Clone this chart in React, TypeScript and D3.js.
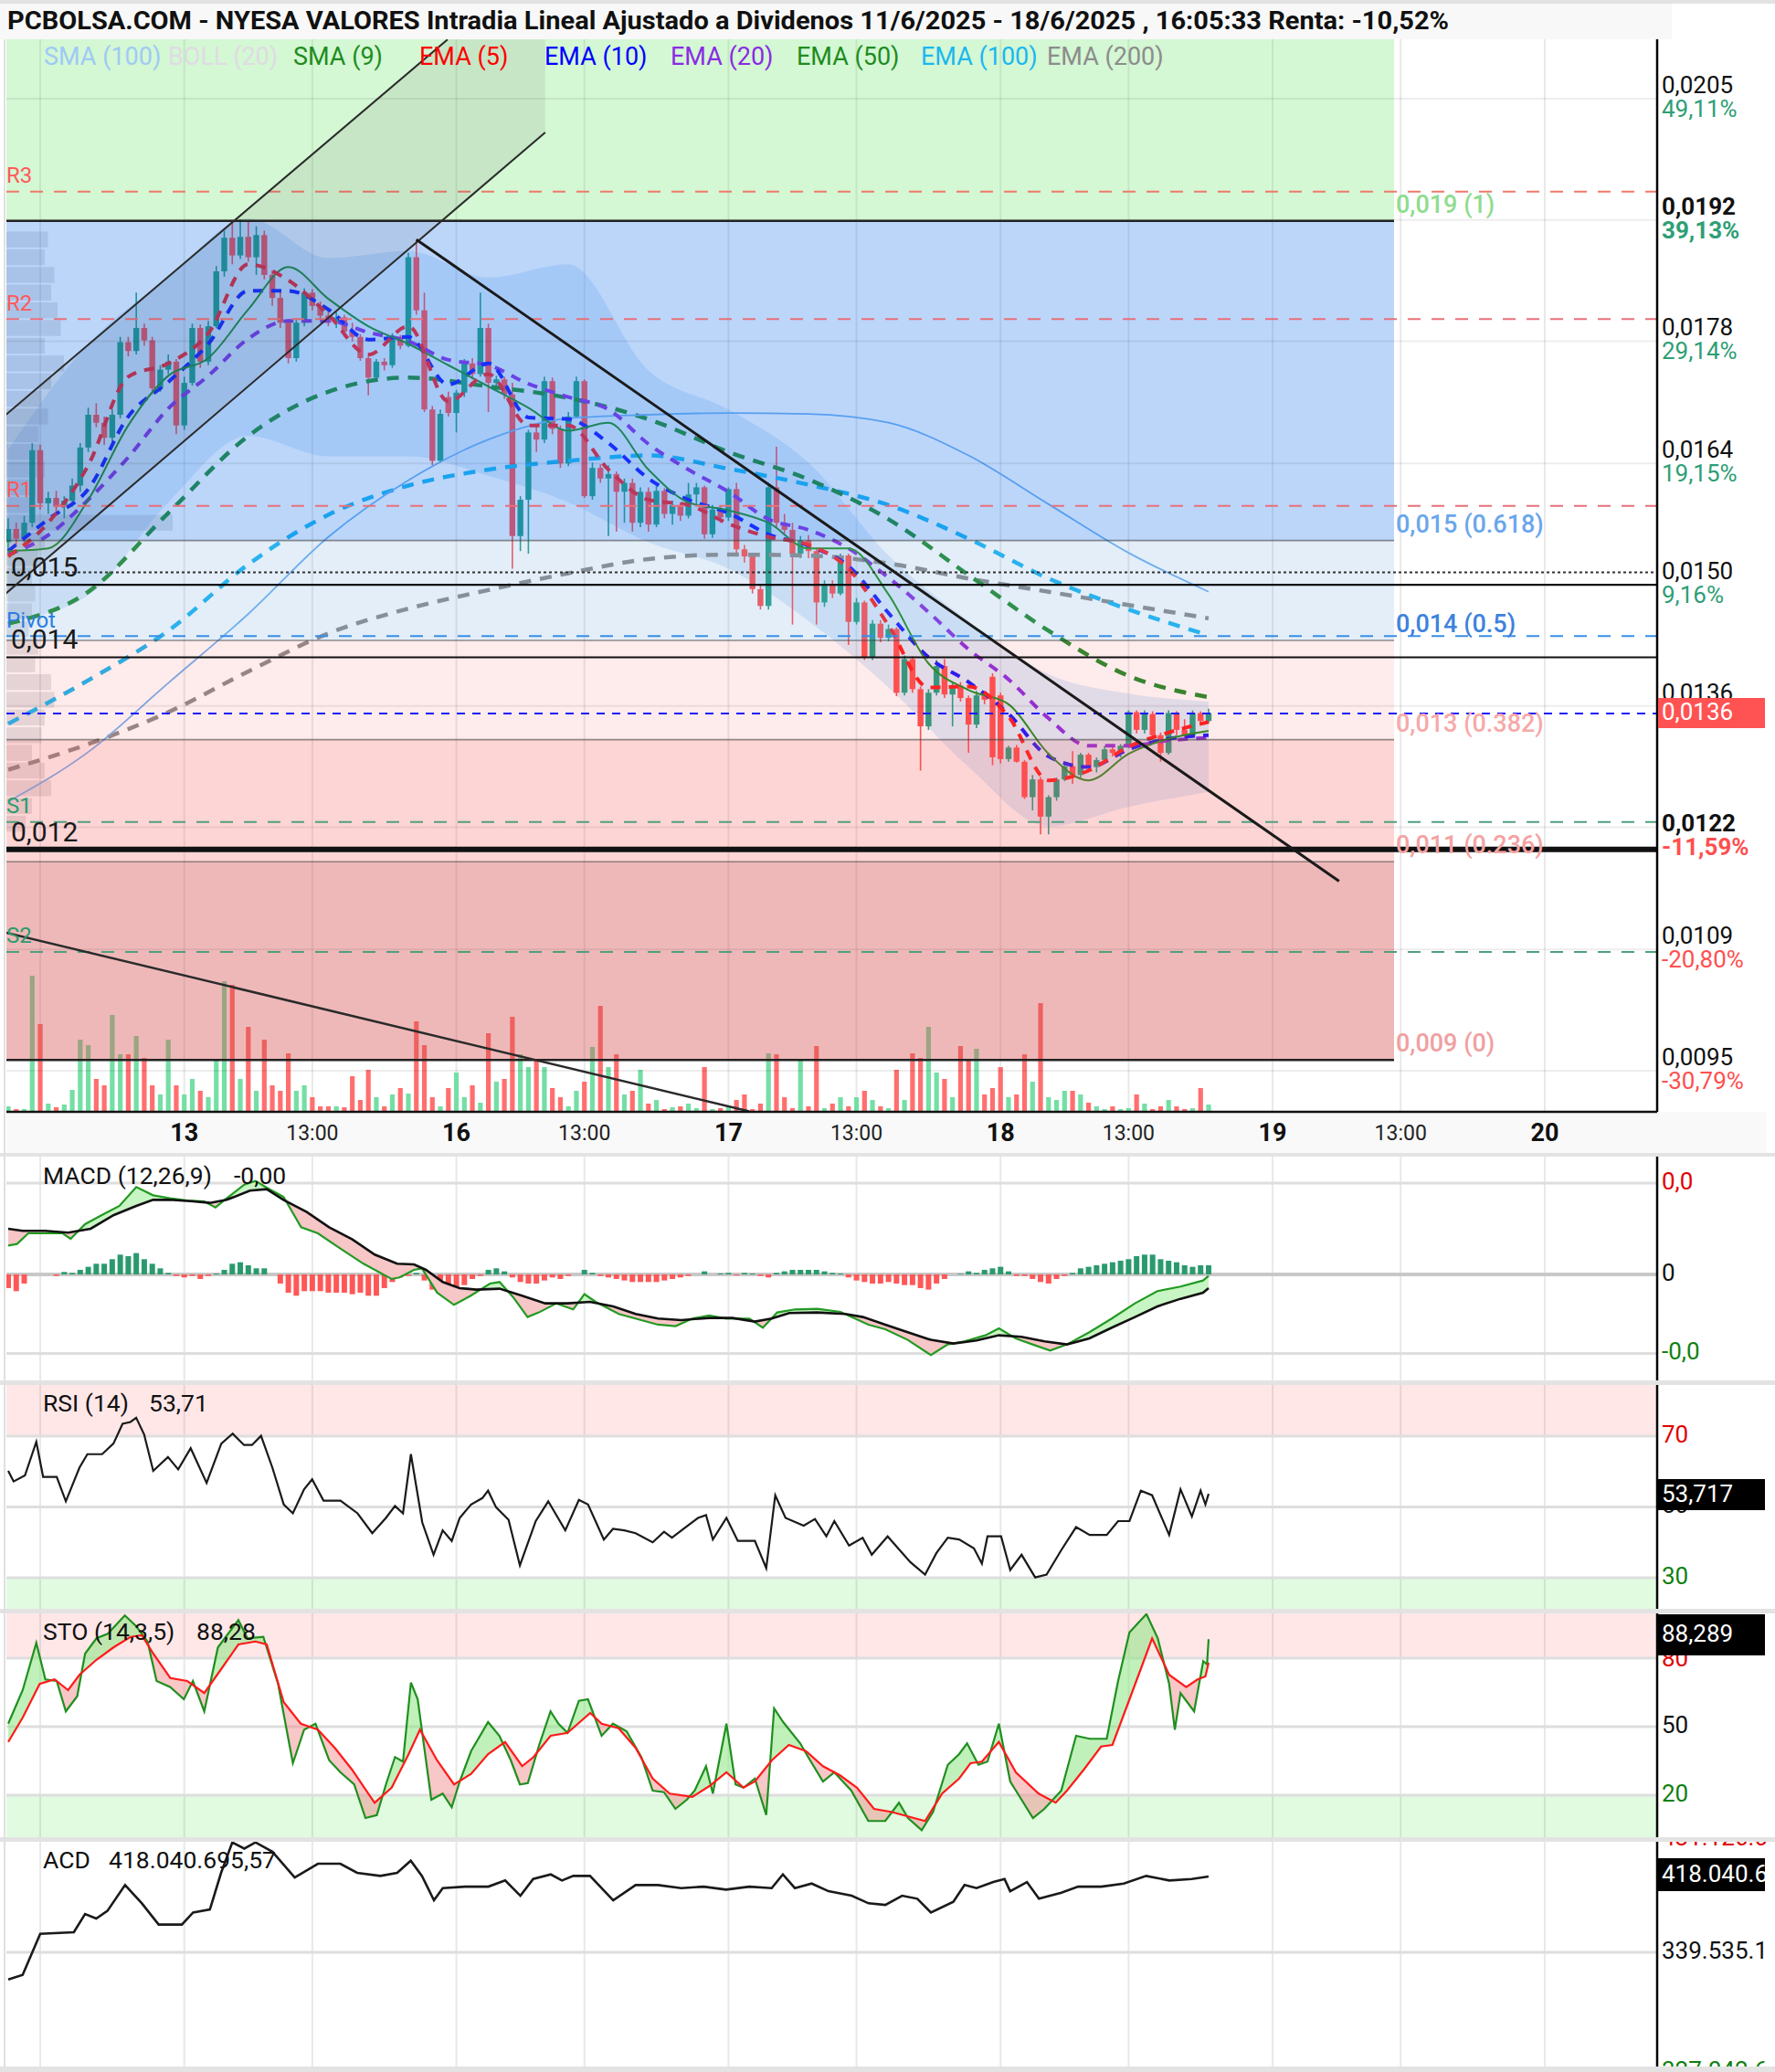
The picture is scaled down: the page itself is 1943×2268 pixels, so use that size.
import React from 'react';
import * as d3 from 'd3';

// ---------------- DATA ----------------
// Prices are in units of 0.0001 EUR. Candles are 15-minute slots, index 0 = 12/6 12:00.
const TITLE = 'PCBOLSA.COM - NYESA VALORES Intradia Lineal Ajustado a Dividenos 11/6/2025 - 18/6/2025 , 16:05:33 Renta: -10,52%';

const opens = [
  154.8, 156.3, 155.2, 157.0, 165.2, 159.2, 159.8, 158.8, 159.5, 161.2,
  165.5, 169.2, 168.3, 166.6, 169.2, 177.4, 176.4, 179.0, 177.6, 172.2,
  174.3, 175.2, 168.0, 172.8, 179.0, 175.2, 179.2, 185.4, 189.2, 187.2,
  189.3, 187.0, 189.5, 185.0, 182.4, 179.6, 175.6, 179.6, 183.0, 181.5,
  180.4, 179.6, 180.2, 178.6, 178.0, 175.6, 173.4, 175.2, 174.8, 178.0,
  177.0, 187.0, 181.0, 169.8, 164.0, 171.2, 169.4, 171.7, 175.0, 173.8,
  179.0, 172.8, 173.2, 171.5, 155.5, 159.6, 167.2, 166.4, 173.0, 167.6,
  163.7, 169.0, 173.0, 160.0, 163.2, 162.0, 162.5, 160.5, 161.5, 157.0,
  160.5, 156.8, 160.6, 158.0, 159.0, 157.8, 160.2, 161.0, 155.7, 158.5,
  157.6, 160.8, 154.0, 153.2, 149.5, 147.6, 161.0, 157.0, 156.2, 153.5,
  155.0, 153.8, 148.0, 150.0, 149.0, 153.3, 145.8, 148.0, 141.8, 145.6,
  144.0, 145.0, 137.8, 141.6, 138.2, 134.0, 137.8, 140.8, 137.6, 138.6,
  137.2, 134.2, 137.5, 139.6, 137.5, 130.3, 131.6, 130.0, 126.0, 128.0,
  123.8, 126.0, 128.0, 129.5, 128.5, 130.8, 129.4, 130.2, 131.4, 131.0,
  131.8, 135.6, 133.6, 135.4, 133.0, 131.0, 135.5, 133.6, 133.0, 135.5,
  134.6,
];
const highs = [
  157.5, 157.0, 157.8, 166.0, 165.8, 160.5, 160.6, 160.0, 162.0, 166.0,
  170.0, 170.5, 169.0, 169.8, 178.0, 178.0, 183.0, 179.5, 178.0, 174.8,
  176.0, 175.5, 173.5, 179.5, 179.4, 179.8, 186.0, 190.0, 191.2, 191.3,
  191.0, 190.5, 190.0, 185.5, 183.2, 180.0, 180.0, 183.5, 183.4, 182.0,
  181.0, 180.8, 180.5, 179.6, 178.3, 175.8, 175.5, 175.6, 178.4, 178.2,
  187.5, 189.0, 183.0, 170.2, 169.8, 171.8, 172.0, 175.5, 175.6, 183.0,
  179.5, 173.6, 173.5, 172.8, 160.0, 167.5, 168.0, 173.5, 173.4, 168.0,
  169.5, 173.5, 173.2, 163.8, 163.6, 163.5, 162.8, 162.0, 162.0, 161.0,
  161.0, 161.2, 160.9, 159.5, 159.3, 161.5, 161.5, 161.2, 159.0, 159.0,
  161.0, 161.5, 154.5, 153.6, 150.0, 161.5, 165.6, 158.0, 157.0, 155.5,
  155.6, 154.2, 150.5, 150.5, 153.5, 153.5, 148.5, 148.2, 146.0, 146.0,
  145.5, 145.2, 142.0, 141.9, 138.5, 138.2, 141.5, 141.6, 139.0, 139.0,
  137.5, 138.0, 138.0, 140.0, 137.8, 131.8, 131.9, 130.2, 128.5, 128.3,
  126.2, 128.2, 129.8, 131.2, 131.0, 131.0, 130.5, 131.8, 131.8, 132.0,
  135.8, 135.8, 135.8, 135.7, 133.3, 135.8, 135.7, 134.8, 135.8, 135.7,
  136.0,
];
const lows = [
  153.5, 154.5, 154.8, 156.5, 158.5, 158.0, 158.2, 157.5, 158.8, 160.5,
  165.0, 167.8, 165.8, 166.0, 168.8, 175.8, 176.0, 177.0, 171.5, 171.8,
  173.8, 167.0, 167.5, 172.5, 174.5, 174.8, 179.0, 184.8, 186.2, 186.8,
  186.5, 185.0, 184.5, 181.5, 179.0, 175.0, 175.2, 179.2, 181.0, 180.0,
  179.2, 179.0, 178.0, 177.5, 175.3, 171.4, 173.0, 174.2, 174.5, 176.6,
  176.8, 180.5, 169.5, 163.5, 163.8, 169.0, 167.2, 171.2, 173.2, 173.5,
  169.5, 172.0, 171.0, 151.8, 153.8, 153.5, 165.0, 166.0, 167.0, 163.2,
  163.4, 168.8, 159.8, 159.6, 161.5, 155.5, 156.0, 157.0, 156.0, 156.5,
  156.0, 156.5, 157.5, 156.8, 157.2, 157.5, 159.0, 155.2, 155.3, 157.0,
  157.2, 153.5, 152.5, 149.0, 147.2, 147.2, 156.5, 155.8, 145.5, 153.0,
  153.0, 145.5, 147.5, 148.5, 148.8, 143.2, 145.5, 141.5, 141.5, 143.5,
  143.6, 137.4, 137.5, 137.8, 129.0, 133.6, 137.5, 137.2, 134.0, 136.8,
  131.0, 133.8, 136.5, 129.6, 129.8, 130.0, 129.9, 125.8, 124.5, 121.8,
  121.8, 125.6, 127.8, 127.5, 128.2, 129.0, 128.8, 129.8, 130.6, 130.5,
  131.5, 133.2, 133.2, 132.8, 130.0, 130.8, 133.0, 132.6, 132.8, 134.2,
  134.4,
];
const closes = [
  156.3, 155.2, 157.0, 165.2, 159.2, 159.8, 158.8, 159.5, 161.2, 165.5,
  169.2, 168.3, 166.6, 169.2, 177.4, 176.4, 179.0, 177.6, 172.2, 174.3,
  175.2, 168.0, 172.8, 179.0, 175.2, 179.2, 185.4, 189.2, 187.2, 189.3,
  187.0, 189.5, 185.0, 182.4, 179.6, 175.6, 179.6, 183.0, 181.5, 180.4,
  179.6, 180.2, 178.6, 178.0, 175.6, 173.4, 175.2, 174.8, 178.0, 177.0,
  187.0, 181.0, 169.8, 164.0, 169.3, 169.4, 171.7, 175.0, 173.8, 179.0,
  172.8, 173.2, 171.5, 155.5, 159.6, 167.2, 166.4, 173.0, 167.6, 163.7,
  169.0, 173.0, 160.0, 163.2, 162.0, 162.5, 160.5, 161.5, 157.0, 160.5,
  156.8, 160.6, 158.0, 159.0, 157.8, 160.2, 161.0, 155.7, 158.5, 157.6,
  160.8, 154.0, 153.2, 149.5, 147.6, 161.0, 157.0, 156.2, 153.5, 155.0,
  153.8, 148.0, 150.0, 149.0, 153.3, 145.8, 148.0, 141.8, 145.6, 144.0,
  145.0, 137.8, 141.6, 138.2, 134.0, 137.8, 140.8, 137.6, 138.6, 137.2,
  134.2, 137.5, 137.0, 130.5, 130.3, 131.6, 130.0, 126.0, 128.0, 123.8,
  126.0, 128.0, 129.5, 128.5, 130.8, 129.4, 130.2, 131.4, 131.0, 131.8,
  135.6, 133.6, 135.4, 133.0, 131.0, 135.5, 133.6, 133.0, 135.5, 134.6,
  135.5,
];
const volumes = [
  6, 3, 3, 149, 96, 9, 5, 8, 24, 79,
  73, 36, 29, 106, 63, 63, 83, 59, 29, 19,
  79, 29, 19, 36, 23, 16, 56, 143, 139, 36,
  93, 23, 79, 29, 23, 64, 23, 29, 16, 6,
  6, 6, 5, 39, 13, 46, 16, 6, 19, 26,
  20, 99, 73, 16, 6, 26, 43, 16, 29, 10,
  86, 33, 36, 104, 63, 49, 56, 49, 26, 16,
  6, 23, 33, 71, 116, 49, 63, 19, 23, 46,
  9, 13, 3, 5, 6, 9, 4, 49, 3, 4,
  6, 13, 19, 3, 9, 64, 63, 16, 4, 56,
  6, 72, 4, 9, 16, 6, 16, 23, 13, 6,
  4, 46, 13, 64, 59, 93, 43, 36, 16, 72,
  56, 69, 19, 26, 49, 16, 19, 63, 33, 119,
  16, 13, 23, 23, 19, 10, 6, 3, 6, 3,
  4, 19, 9, 3, 6, 13, 6, 3, 4, 26,
  8,
];

// moving averages sampled every 5 candles
const ema5 = [153.2, 157.0, 163.5, 173.5, 175.0, 178.4, 186.2, 184.4, 180.5, 176.0, 179.2, 170.7, 173.8, 168.0, 168.0, 163.0, 159.6, 159.0, 156.9, 155.4, 154.5, 151.8, 145.4, 138.4, 138.5, 135.1, 127.9, 129.0, 131.7, 133.3, 134.5];
const ema10 = [153.8, 157.4, 160.8, 169.0, 172.9, 177.2, 183.2, 183.2, 181.1, 177.7, 178.0, 172.6, 175.0, 168.9, 168.7, 166.0, 162.0, 159.6, 158.1, 155.7, 154.4, 152.1, 146.8, 141.8, 139.0, 135.4, 130.6, 129.4, 131.4, 132.6, 133.0];
const ema20 = [153.4, 155.6, 159.6, 164.4, 169.9, 173.6, 177.8, 179.8, 179.8, 178.5, 177.5, 175.4, 174.8, 172.7, 171.2, 169.8, 165.9, 163.0, 160.5, 157.4, 156.2, 154.1, 150.8, 146.9, 142.7, 139.3, 134.9, 131.8, 131.8, 132.4, 132.7];
const sma9 = [153.8, 154.1, 159.6, 168.0, 173.6, 175.6, 181.1, 185.9, 182.3, 179.2, 177.2, 174.8, 172.4, 170.0, 167.4, 168.3, 163.0, 159.3, 158.4, 157.0, 154.1, 154.1, 148.9, 141.1, 138.1, 136.5, 130.9, 127.9, 130.9, 132.6, 133.5];
// long averages sampled every 10 candles
const ema50 = [145.6, 149.2, 158.1, 166.8, 171.8, 173.4, 172.4, 171.1, 168.7, 165.0, 161.9, 157.4, 151.1, 144.8, 139.7, 137.3];
const ema100 = [134.3, 139.2, 144.8, 152.3, 157.9, 161.2, 163.0, 164.0, 164.6, 163.1, 161.3, 159.0, 155.2, 150.7, 147.2, 144.3];
const ema200 = [129.1, 132.0, 135.6, 140.2, 144.5, 147.3, 149.4, 151.3, 152.9, 153.4, 153.3, 152.4, 150.7, 149.2, 147.7, 146.2];
const sma100 = [125.5, 131.1, 138.9, 146.7, 155.4, 161.8, 166.4, 168.8, 169.2, 169.4, 169.3, 168.3, 164.6, 159.1, 153.6, 149.2];
const bollUpper = [165.3, 177.2, 184.7, 191.4, 186.9, 187.7, 184.7, 186.2, 174.2, 169.8, 163.8, 153.3, 145.9, 139.9, 137.7, 136.8];
const bollLower = [145.9, 148.8, 159.3, 166.8, 164.5, 164.5, 162.3, 159.3, 154.8, 151.8, 145.9, 138.4, 129.4, 122.7, 124.9, 126.6];

// volume profile (price bin centres, bar widths in relative units)
const profileLevels = [189, 187, 185, 183, 181, 179, 177, 175, 173, 171, 169, 167, 165, 163, 161, 159, 157, 155, 153, 151, 149, 147, 145, 143, 141, 139, 137, 135, 133, 131, 129, 127, 125, 123];
const profileWidths = [65, 60, 75, 70, 80, 85, 60, 90, 70, 55, 65, 50, 55, 60, 45, 40, 260, 60, 50, 40, 45, 40, 35, 50, 45, 70, 75, 60, 55, 40, 60, 70, 40, 30];

// price levels
const fibValues = [191.1, 155.0, 143.7, 132.5, 118.7, 96.3];
const fibLabels = ['0,019 (1)', '0,015 (0.618)', '0,014 (0.5)', '0,013 (0.382)', '0,011 (0.236)', '0,009 (0)'];
const fibLabelColors = ['#8fdc8f', '#6aa6ec', '#3d82de', '#f6a9a9', '#f3a3a3', '#f0a0a0'];
const fibZoneColors = ['rgba(83,223,83,0.25)', 'rgba(32,118,238,0.30)', 'rgba(115,170,225,0.20)', 'rgba(247,88,88,0.12)', 'rgba(247,87,87,0.25)', 'rgba(212,77,77,0.40)'];
const pivotNames = ['R3', 'R2', 'R1', 'Pivot', 'S1', 'S2'];
const pivotValues = [194.4, 180.0, 158.9, 144.2, 123.2, 108.5];
const pivotLineColors = ['#f07a6a', '#e8707a', '#e8707a', '#3a8ee6', '#4f9f7f', '#4f9f7f'];
const pivotTextColors = ['#ff5a5a', '#ff5a5a', '#ff5a5a', '#2a7de1', '#2a9d6f', '#2a9d6f'];
const levelValues = [150.0, 141.8, 120.1];
const levelLabels = ['0,015', '0,014', '0,012'];
const levelWidths = [2.2, 2.2, 6];
const dottedLevel = 151.4;
const lastPrice = 135.45;

// trend lines as [candle index, price]
const trendDown = [[51, 189.0], [166.3, 116.5]];
const channelUpper = [[-0.3, 169.2], [54.9, 211.6]];
const channelLower = [[-0.3, 149.0], [67.1, 201.1]];
const s2Trend = [[-0.3, 110.7], [92.6, 90.5]];

// axis ticks
const priceTicks = [204.9, 191.2, 177.5, 163.7, 150.0, 136.3, 122.6, 108.8, 95.1];
const priceTickLabels = ['0,0205', '0,0192', '0,0178', '0,0164', '0,0150', '0,0136', '', '0,0109', '0,0095'];
const pctTickLabels = ['49,11%', '39,13%', '29,14%', '19,15%', '9,16%', '-0,82%', '', '-20,80%', '-30,79%'];
const lowMark = 121.5;
const dayTickIdx = [22, 56, 90, 124, 158, 192];
const dayTickLabels = ['13', '16', '17', '18', '19', '20'];
const hourTickIdx = [4, 38, 72, 106, 140, 174];
const hourTickLabels = ['', '13:00', '13:00', '13:00', '13:00', '13:00'];

const legendNames = ['SMA (100)', 'BOLL (20)', 'SMA (9)', 'EMA (5)', 'EMA (10)', 'EMA (20)', 'EMA (50)', 'EMA (100)', 'EMA (200)'];
const legendColors = ['#9fcaf5', '#e0dbe4', '#1e8c1e', '#ff0000', '#0000ff', '#8a2be2', '#1e8c1e', '#1ab8f0', '#8c8c8c'];
const legendX = [48, 184, 321, 459, 596, 734, 872, 1008, 1146];

// MACD (units 1e-5)
const macdIdx = [0, 1.1, 2.5, 6.8, 7.8, 9.6, 11.7, 13.9, 16.0, 18.1, 20.2, 22.4, 24.5, 25.9, 27.3, 29.5, 30.9, 32.3, 34.4, 36.6, 38.7, 41.5, 44.4, 47.9, 48.9, 50.7, 51.7, 53.6, 55.7, 57.8, 60.2, 61.4, 63.1, 64.9, 66.3, 68.5, 70.6, 72.0, 73.4, 76.3, 79.1, 81.2, 83.4, 85.5, 87.6, 89.7, 92.6, 94.3, 96.1, 98.3, 101.1, 104.0, 107.5, 109.6, 112.4, 115.3, 117.4, 119.5, 122.1, 123.8, 125.9, 128.0, 130.2, 132.3, 135.1, 137.9, 140.8, 143.6, 146.5, 149.3, 150];
const macdVals = [9.5, 10, 13.5, 13.5, 11.7, 16.5, 19.5, 22.5, 28.7, 26, 25, 24.3, 24, 22, 25, 29.5, 30.7, 28.5, 25.5, 15.5, 13.5, 8.5, 3.5, -1.5, -1, 1.5, 2, -6, -10, -7, -3, -2.5, -7.5, -14, -12.5, -9.5, -11.5, -6.5, -9, -13, -15, -16.5, -17, -14.5, -13.5, -14.5, -14.5, -17.5, -12.5, -11.5, -11.3, -12.3, -16.5, -18, -21.5, -26.5, -23, -22, -20, -17.7, -21, -23, -25, -23, -19, -14.5, -9.5, -5.5, -4, -2, -0.5];
const signalIdx = [0, 1.8, 4.6, 7.5, 10.3, 13.2, 16.0, 18.1, 20.2, 23.1, 25.2, 27.3, 30.2, 32.3, 34.4, 37.3, 40.1, 43.0, 45.8, 48.6, 50.7, 52.2, 54.3, 56.4, 58.5, 61.4, 64.2, 67.1, 69.9, 72.7, 75.6, 78.4, 81.2, 84.1, 87.6, 90.5, 93.3, 95.4, 97.6, 101.1, 104.6, 106.8, 109.6, 112.4, 115.3, 118.1, 121.0, 123.8, 126.6, 129.5, 132.3, 135.1, 137.9, 140.8, 143.6, 146.5, 149.3, 150];
const signalVals = [15, 14.3, 14.3, 13.7, 15, 19.5, 22.5, 24.5, 24.5, 24, 23.5, 24.5, 27.5, 28, 24.5, 20.5, 15.5, 11.5, 6.5, 3.5, 3.3, 1.5, -2.5, -4.5, -5, -4.7, -7, -9.5, -9.5, -9, -10.5, -13, -14.5, -15, -14.3, -14.3, -15.5, -14.5, -12.7, -12.5, -13, -14, -16.5, -19, -21.5, -22.7, -21.7, -20, -20.5, -22, -23, -21, -17.5, -14, -10.5, -8, -6, -4.5];
const histVals = [
  -4.5, -5.5, -3, 0, 0, 0, -0.5, 0.8, 0.5, 1.5,
  2.5, 3.5, 3.5, 5, 6.5, 6, 7, 5, 3.5, 2,
  0.5, -0.5, -1, -0.5, -1.5, -0.5, 0.3, 1.5, 3.5, 4,
  3, 2, 2, 0, -3, -6, -7, -5.5, -5.5, -5.5,
  -6, -6, -6, -6.5, -6, -7, -7, -4.5, -2.5, -1,
  -0.5, 0.5, -2, -5, -6, -7, -5, -3.5, -1.5, -0.5,
  1.5, 2, 1, -1, -2.5, -3, -3, -2, -1, -1.5,
  -0.5, 0, 1.5, 0.5, -0.5, -1, -1.5, -2, -2.5, -2.5,
  -2.5, -2.5, -2, -1.5, -1, -0.5, 0, 1, 0, 0.3,
  0.5, -0.3, 0.5, 0.3, -0.5, -1, 0.5, 1, 1.5, 1.5,
  1.5, 1.5, 1, 0.5, 0.3, -1, -2, -2.5, -3, -3,
  -2.5, -3, -3.5, -3.5, -4.5, -5, -3, -1.5, 0, 0.2,
  1, 0.5, 1.5, 2, 2.5, 1, -0.5, -0.5, -1.5, -2.5,
  -3, -1.5, -0.5, 0.5, 2, 2.5, 3, 3.5, 4, 4.5,
  5, 6, 6.5, 6.5, 5, 4.5, 4, 3, 2.5, 3,
  3,
];

// RSI (14)
const rsiIdx = [0, 0.67, 2.09, 3.51, 4.36, 6.06, 7.2, 8.9, 9.89, 11.73, 13.15, 14.29, 15.28, 15.99, 16.98, 18.12, 19.96, 21.24, 22.8, 24.79, 26.63, 28.05, 29.47, 30.46, 31.59, 33.01, 34.43, 35.57, 36.98, 37.98, 39.4, 41.52, 43.65, 45.49, 47.2, 48.33, 49.33, 50.32, 51.74, 53.15, 54.29, 55.42, 56.42, 57.84, 59.25, 59.96, 60.96, 62.52, 63.94, 65.92, 67.48, 69.61, 71.31, 72.45, 74.43, 75.57, 76.99, 78.4, 80.53, 81.95, 82.94, 84.36, 86.2, 87.2, 88.05, 89.75, 91.17, 93.3, 94.72, 95.85, 97.13, 99.4, 100.81, 102.23, 103.23, 105.07, 106.77, 107.91, 109.89, 112.73, 114.57, 115.99, 117.41, 118.83, 120.67, 121.67, 122.37, 124.07, 125.21, 126.63, 128.33, 129.75, 131.59, 133.44, 135.14, 137.27, 138.69, 140.11, 141.53, 142.94, 145.07, 146.49, 147.91, 149.0, 149.6, 150];
const rsiVals = [60.2, 57.2, 58.9, 68.4, 58.5, 58.5, 51.6, 61.1, 64.9, 64.9, 67.9, 73.5, 74.0, 75.2, 70.5, 60.2, 64.1, 60.6, 66.6, 56.8, 67.9, 70.7, 67.5, 67.5, 70.1, 61.1, 50.7, 48.2, 55.0, 57.8, 51.8, 51.8, 48.2, 42.6, 46.9, 50.3, 48.2, 64.9, 45.6, 36.5, 43.4, 40.4, 46.9, 50.7, 52.5, 54.6, 49.9, 46.4, 33.5, 46.0, 51.6, 43.4, 52.0, 50.7, 40.8, 43.8, 43.4, 42.6, 40.0, 43.0, 41.3, 43.8, 46.9, 47.7, 40.8, 46.9, 40.4, 40.4, 32.7, 53.3, 46.9, 44.7, 46.6, 41.7, 46.0, 39.1, 41.3, 36.5, 41.7, 34.4, 30.9, 37.0, 41.3, 40.8, 38.3, 34.0, 41.7, 41.7, 32.2, 36.5, 30.1, 30.9, 37.8, 44.3, 42.1, 42.1, 46.0, 46.0, 54.6, 53.3, 42.1, 55.0, 47.3, 54.6, 50.7, 53.7];

// Stochastic (14,3,5)
const stoKIdx = [0, 1.81, 3.51, 4.64, 6.06, 7.2, 8.62, 9.61, 11.03, 12.45, 14.57, 15.99, 17.41, 18.54, 20.25, 21.95, 23.08, 24.5, 26.2, 28.76, 29.89, 31.88, 33.72, 35.57, 36.98, 38.4, 40.1, 41.52, 43.23, 44.64, 46.06, 47.2, 48.33, 49.33, 50.32, 51.17, 52.87, 54.29, 55.42, 56.42, 57.84, 59.96, 61.38, 62.8, 63.94, 64.93, 66.35, 67.77, 68.76, 69.89, 71.31, 72.45, 74.15, 75.57, 77.27, 79.11, 80.53, 81.95, 83.37, 84.79, 85.78, 87.2, 88.05, 89.75, 90.89, 91.88, 93.3, 94.72, 95.71, 96.84, 98.97, 99.96, 101.81, 103.23, 105.35, 107.48, 109.6, 111.31, 112.44, 114.15, 115.57, 117.41, 118.83, 119.82, 121.24, 122.37, 123.79, 125.21, 126.63, 128.05, 129.47, 131.59, 133.44, 135.14, 137.27, 138.69, 140.11, 142.23, 143.65, 145.07, 145.78, 146.49, 148.19, 149.33, 149.8, 150];
const stoKVals = [51.3, 66.0, 86.7, 70.7, 70.0, 56.7, 63.3, 82.0, 88.7, 90.7, 98.7, 94.0, 87.3, 70.0, 67.3, 62.0, 70.0, 56.7, 84.7, 96.7, 88.7, 89.3, 68.7, 34.0, 48.7, 51.3, 35.3, 30.0, 24.7, 10.0, 11.3, 24.7, 36.7, 34.7, 69.3, 62.0, 18.0, 20.7, 14.7, 26.0, 39.3, 52.0, 46.0, 35.3, 24.7, 25.3, 42.0, 56.7, 51.3, 47.3, 61.3, 62.0, 46.0, 51.3, 48.0, 36.7, 22.0, 21.3, 14.0, 18.0, 22.0, 32.7, 20.7, 51.3, 24.7, 23.3, 27.3, 11.3, 58.0, 52.0, 42.7, 36.7, 26.0, 30.0, 22.0, 8.7, 8.7, 16.7, 10.0, 4.7, 12.7, 33.3, 38.0, 42.7, 33.3, 34.7, 51.3, 26.0, 18.0, 10.0, 14.0, 22.0, 46.0, 44.7, 44.7, 70.0, 91.3, 99.3, 88.7, 68.7, 48.7, 64.7, 56.7, 78.7, 77.3, 88.3];
const stoDIdx = [0, 1.81, 3.93, 5.78, 7.48, 8.9, 11.03, 13.15, 15.28, 16.7, 18.12, 20.25, 22.37, 24.5, 26.63, 28.76, 30.89, 32.3, 34.43, 36.56, 38.69, 40.81, 42.94, 45.78, 47.91, 50.04, 51.45, 53.58, 55.71, 57.84, 59.96, 62.09, 64.22, 65.64, 67.77, 69.89, 72.73, 74.15, 76.28, 78.4, 80.53, 82.66, 85.5, 87.62, 89.75, 91.88, 93.3, 95.43, 97.55, 99.68, 101.81, 103.94, 106.06, 108.19, 110.32, 112.44, 114.57, 116.7, 118.83, 120.25, 121.67, 123.79, 125.92, 128.76, 130.89, 132.3, 134.43, 136.56, 137.98, 139.4, 141.53, 142.94, 145.07, 147.2, 148.62, 149.6, 150];
const stoDVals = [43.3, 54.0, 68.7, 70.7, 66.0, 72.7, 79.3, 84.7, 89.3, 90.0, 82.0, 71.3, 70.0, 64.7, 75.3, 86.0, 87.3, 86.0, 60.7, 51.3, 48.7, 40.7, 31.3, 16.7, 23.3, 38.0, 48.7, 35.3, 24.7, 29.3, 38.0, 43.3, 32.7, 36.7, 46.0, 47.3, 56.0, 51.3, 49.3, 40.7, 27.3, 20.7, 19.3, 24.0, 30.0, 23.3, 26.0, 35.3, 42.0, 39.3, 32.7, 28.7, 23.3, 14.0, 12.7, 10.7, 8.7, 20.7, 27.3, 34.0, 34.7, 43.3, 30.0, 20.7, 16.7, 22.0, 31.3, 41.3, 42.0, 55.3, 75.3, 88.7, 72.7, 67.3, 70.7, 72.0, 78.0];

// ACD (millions)
const acdIdx = [0, 1.8, 4.0, 8.2, 9.6, 11.0, 12.4, 14.6, 16.7, 18.8, 21.7, 23.1, 25.2, 26.6, 28.0, 29.5, 30.9, 33.0, 35.8, 38.7, 41.5, 43.6, 46.5, 48.6, 50.3, 51.7, 53.2, 54.3, 57.1, 60.0, 62.1, 64.0, 65.6, 67.8, 69.2, 70.6, 72.7, 75.6, 78.4, 81.2, 84.1, 86.9, 89.7, 92.6, 95.4, 96.8, 98.3, 100.4, 102.5, 105.4, 107.5, 109.6, 111.7, 113.6, 115.3, 118.1, 119.5, 121.0, 123.1, 124.5, 125.2, 127.3, 128.8, 131.6, 133.7, 136.6, 139.4, 142.2, 145.1, 147.9, 150];
const acdVals = [310.4, 315.3, 359.5, 361.1, 380.7, 375.8, 384.0, 411.8, 392.2, 369.3, 369.3, 382.3, 385.6, 424.9, 457.6, 451.0, 457.6, 447.7, 419.9, 434.7, 434.7, 424.9, 421.6, 424.9, 437.9, 421.6, 395.4, 408.5, 410.1, 410.1, 416.7, 400.3, 418.3, 423.2, 416.7, 421.6, 421.6, 395.4, 411.8, 411.8, 408.5, 410.1, 406.9, 410.1, 408.5, 423.2, 408.5, 413.4, 405.2, 400.3, 392.2, 390.5, 400.3, 397.1, 382.3, 393.8, 411.8, 408.5, 415.0, 418.3, 405.2, 415.0, 397.1, 403.6, 410.1, 410.1, 413.4, 421.6, 416.7, 418.3, 421.0];

// ---------------- CHART ----------------
const W = 1943, H = 2268;
const PL = 7, PR = 1814, FIBR = 1526;
const MT = 43, MB = 1217;
const FONT = 'Roboto, "Open Sans", sans-serif';
const CG = '#1f9e80', CR = '#ff4d4d';
const VG = '#74dfa5', VR = '#ff6f6f';

export default function App() {
  const x = d3.scaleLinear().domain([0, 150]).range([9, 1323]);
  const y = d3.scaleLinear().domain([90.45, 211.62]).range([MB, MT]);
  const vy = d3.scaleLinear().domain([0, 150]).range([MB, MB - 150]);
  const profW = d3.scaleLinear().domain([0, 100]).range([0, 70]);

  const macdT = 1266, macdB = 1511;
  const my = d3.scaleLinear().domain([-26, 30]).range([1481.6, 1295]);
  const rsiT = 1516, rsiB = 1761;
  const ry = d3.scaleLinear().domain([30, 70]).range([1727, 1572]);
  const stoT = 1766, stoB = 2011;
  const sy = d3.scaleLinear().domain([20, 80]).range([1965, 1815]);
  const acdT = 2016, acdB = 2262;
  const ay = d3.scaleLinear().domain([339.535, 418.04]).range([2137, 2057]);

  const idx5 = d3.range(0, 151, 5);
  const idx10 = d3.range(0, 151, 10);
  const cIdx = d3.range(closes.length);

  const mkLine = (idx: number[], vals: number[], ys: (v: number) => number, curve: any = d3.curveLinear) =>
    d3.line<number>().x((_, k) => x(idx[k])).y((v) => ys(v)).curve(curve)(vals) || '';

  const bollPath = d3.area<number>()
    .x((_, k) => x(idx10[k]))
    .y0((_, k) => y(bollLower[k]))
    .y1((v) => y(v))
    .curve(d3.curveMonotoneX)(bollUpper) || '';

  // fill helpers for indicator pairs
  const fine = d3.range(0, 150.001, 0.25);
  const pairFill = (aIdx: number[], aVals: number[], bIdx: number[], bVals: number[], ys: (v: number) => number, top: number, bot: number) => {
    const A = d3.scaleLinear().domain(aIdx).range(aVals);
    const B = d3.scaleLinear().domain(bIdx).range(bVals);
    const area = d3.area<number>().x((t) => x(t)).y0((t) => ys(B(t))).y1((t) => ys(A(t)))(fine) || '';
    const bLine = fine.map((t) => `L${x(t)},${ys(B(t))}`).join('');
    const above = `M${x(0)},${top}${bLine}L${x(150)},${top}Z`;
    const below = `M${x(0)},${bot}${bLine}L${x(150)},${bot}Z`;
    return { area, above, below };
  };
  const macdFill = pairFill(macdIdx, macdVals, signalIdx, signalVals, my, macdT, macdB);
  const stoFill = pairFill(stoKIdx, stoKVals, stoDIdx, stoDVals, sy, stoT, stoB);

  const zoneBounds = [211.62, ...fibValues];
  const allTickIdx = [...dayTickIdx, ...hourTickIdx];

  const seg = (pts: number[][]) => ({ x1: x(pts[0][0]), y1: y(pts[0][1]), x2: x(pts[1][0]), y2: y(pts[1][1]) });
  const chanPoly = [
    [x(channelUpper[0][0]), y(channelUpper[0][1])],
    [x(channelUpper[1][0]), y(channelUpper[1][1])],
    [x(channelLower[1][0]), y(channelUpper[1][1])],
    [x(channelLower[1][0]), y(channelLower[1][1])],
    [x(channelLower[0][0]), y(channelLower[0][1])],
  ].map((p) => p.join(',')).join(' ');

  const vGrid = (top: number, bot: number, key: string) =>
    allTickIdx.map((t, k) => (
      <line key={key + k} x1={x(t)} x2={x(t)} y1={top} y2={bot} stroke="rgba(0,0,0,0.09)" strokeWidth={2} />
    ));
  const hGridLine = (yy: number, key: string, color = '#dedede', w = 3) => (
    <line key={key} x1={PL} x2={PR} y1={yy} y2={yy} stroke={color} strokeWidth={w} />
  );

  const maStyles = [
    { vals: ema200, idx: idx10, color: '#8a8a8a', w: 4.5, dash: '13,10' },
    { vals: ema100, idx: idx10, color: '#17b5f0', w: 4.5, dash: '13,10' },
    { vals: ema50, idx: idx10, color: '#1f8a2a', w: 4.5, dash: '13,10' },
    { vals: sma100, idx: idx10, color: '#6fb0f2', w: 1.8, dash: '' },
    { vals: ema20, idx: idx5, color: '#8a2be2', w: 4, dash: '11,9' },
    { vals: ema10, idx: idx5, color: '#1414ff', w: 4, dash: '11,9' },
    { vals: sma9, idx: idx5, color: '#1e8c1e', w: 2, dash: '' },
    { vals: ema5, idx: idx5, color: '#ff1a1a', w: 4, dash: '11,9' },
  ];

  const rightLabel = (yy: number, text: string, color: string, key: string, bold = false, size = 26) => (
    <text key={key} x={1819} y={yy} dominantBaseline="middle" fontSize={size} fill={color} fontWeight={bold ? 700 : 400}>{text}</text>
  );
  const valueBox = (y0: number, y1: number, text: string, bg: string, key: string) => (
    <g key={key}>
      <rect x={1815} y={y0} width={117} height={y1 - y0} fill={bg} />
      <text x={1819} y={(y0 + y1) / 2 + 1} dominantBaseline="middle" fontSize={26} fill="#fff">{text}</text>
    </g>
  );

  return (
    <svg width={W} height={H} style={{ position: 'absolute', left: 0, top: 0, background: '#fff' }} fontFamily={FONT}>
      <defs>
        <clipPath id="clipMain"><rect x={PL} y={MT} width={PR - PL} height={MB - MT} /></clipPath>
        <clipPath id="macdAbove"><path d={macdFill.above} /></clipPath>
        <clipPath id="macdBelow"><path d={macdFill.below} /></clipPath>
        <clipPath id="stoAbove"><path d={stoFill.above} /></clipPath>
        <clipPath id="stoBelow"><path d={stoFill.below} /></clipPath>
        <clipPath id="clipMacd"><rect x={PL} y={macdT} width={PR - PL} height={macdB - macdT} /></clipPath>
        <clipPath id="clipRsi"><rect x={PL} y={rsiT} width={PR - PL} height={rsiB - rsiT} /></clipPath>
        <clipPath id="clipSto"><rect x={PL} y={stoT} width={PR - PL} height={stoB - stoT} /></clipPath>
        <clipPath id="clipAcd"><rect x={PL} y={acdT} width={PR - PL} height={acdB - acdT} /></clipPath>
        <clipPath id="clipAcdAxis"><rect x={PR} y={acdT} width={W - PR} height={acdB - acdT} /></clipPath>
      </defs>
      <rect x={0} y={0} width={W} height={H} fill="#fff" />

      {/* title */}
      <rect x={0} y={0} width={1830} height={MT} fill="#f8f8f8" />
      <rect x={0} y={0} width={W} height={4} fill="#e2e2e2" />
      <text x={8} y={25} dominantBaseline="middle" fontSize={27} fontWeight={700} fill="#111"
        textLength={1578} lengthAdjust="spacingAndGlyphs">{TITLE}</text>

      {/* ---------- main price panel ---------- */}
      <g clipPath="url(#clipMain)">
        {vGrid(MT, MB, 'mv')}
        {/* volume */}
        {cIdx.map((i) => (
          <rect key={'v' + i} x={x(i) - 2.6} width={5.2} y={vy(volumes[i])} height={vy(0) - vy(volumes[i])}
            fill={closes[i] >= opens[i] ? VG : VR} />
        ))}
        {/* bollinger */}
        <path d={bollPath} fill="rgba(110,170,235,0.22)" />
        {/* volume profile */}
        {profileLevels.map((p, k) => (
          <rect key={'pf' + k} x={PL} y={y(p + 1) + 1} width={profW(profileWidths[k])} height={y(p - 1) - y(p + 1) - 2}
            fill="rgba(130,130,140,0.22)" />
        ))}
        {/* candles */}
        {cIdx.map((i) => {
          const up = closes[i] >= opens[i];
          const col = up ? CG : CR;
          const yo = y(opens[i]), yc = y(closes[i]);
          return (
            <g key={'c' + i}>
              <line x1={x(i)} x2={x(i)} y1={y(highs[i])} y2={y(lows[i])} stroke={col} strokeWidth={1.6} />
              <rect x={x(i) - 3.2} width={6.4} y={Math.min(yo, yc)} height={Math.max(1.6, Math.abs(yo - yc))} fill={col} />
            </g>
          );
        })}
        {/* moving averages */}
        {maStyles.map((m, k) => (
          <path key={'ma' + k} d={mkLine(m.idx, m.vals, y, d3.curveMonotoneX)} fill="none" stroke={m.color}
            strokeWidth={m.w} strokeDasharray={m.dash || undefined} />
        ))}
        {/* fibonacci zones */}
        {fibZoneColors.map((c, k) => (
          <rect key={'fz' + k} x={PL} width={FIBR - PL} y={y(zoneBounds[k])} height={y(zoneBounds[k + 1]) - y(zoneBounds[k])} fill={c} />
        ))}
        {/* horizontal grid */}
        {priceTicks.map((p, k) => (
          <line key={'hg' + k} x1={PL} x2={PR} y1={y(p)} y2={y(p)} stroke="rgba(0,0,0,0.07)" strokeWidth={2} />
        ))}
        {/* fib boundary lines */}
        {fibValues.map((p, k) => (
          <line key={'fl' + k} x1={PL} x2={FIBR} y1={y(p)} y2={y(p)}
            stroke={k === 0 || k === fibValues.length - 1 ? '#222' : 'rgba(60,60,60,0.55)'}
            strokeWidth={k === 0 || k === fibValues.length - 1 ? 2.4 : 1.6} />
        ))}
        {/* pivots */}
        {pivotValues.map((p, k) => (
          <line key={'pv' + k} x1={PL} x2={PR} y1={y(p)} y2={y(p)} stroke={pivotLineColors[k]} strokeWidth={2} strokeDasharray="14,12" />
        ))}
        {/* levels */}
        {levelValues.map((p, k) => (
          <line key={'lv' + k} x1={PL} x2={PR} y1={y(p)} y2={y(p)} stroke="#111" strokeWidth={levelWidths[k]} />
        ))}
        <line x1={PL} x2={PR} y1={y(dottedLevel)} y2={y(dottedLevel)} stroke="#333" strokeWidth={2} strokeDasharray="3,3" />
        <line x1={PL} x2={PR} y1={y(lastPrice)} y2={y(lastPrice)} stroke="#1a1aff" strokeWidth={2} strokeDasharray="9,8" />
        {/* trend lines */}
        <polygon points={chanPoly} fill="rgba(40,40,40,0.08)" />
        <line {...seg(channelUpper)} stroke="#2a2a2a" strokeWidth={2} />
        <line {...seg(channelLower)} stroke="#2a2a2a" strokeWidth={2} />
        <line {...seg(trendDown)} stroke="#1a1a1a" strokeWidth={3} />
        <line {...seg(s2Trend)} stroke="#2a2a2a" strokeWidth={2.5} />
      </g>

      {/* labels on main */}
      {pivotNames.map((n, k) => (
        <text key={'pn' + k} x={PL} y={y(pivotValues[k]) - 16} dominantBaseline="middle" fontSize={24} fill={pivotTextColors[k]}>{n}</text>
      ))}
      {levelLabels.map((l, k) => (
        <text key={'ll' + k} x={12} y={y(levelValues[k]) - 17} dominantBaseline="middle" fontSize={30} fill="#1a1a1a">{l}</text>
      ))}
      {fibLabels.map((l, k) => (
        <text key={'fb' + k} x={FIBR + 2} y={y(fibValues[k]) - 16} dominantBaseline="middle" fontSize={27} fontWeight={500} fill={fibLabelColors[k]}>{l}</text>
      ))}
      {legendNames.map((n, k) => (
        <text key={'lg' + k} x={legendX[k]} y={64} dominantBaseline="middle" fontSize={27} fill={legendColors[k]}>{n}</text>
      ))}

      {/* right axis of main */}
      <line x1={PR} x2={PR} y1={MT} y2={MB} stroke="#000" strokeWidth={2.5} />
      {priceTicks.map((p, k) => priceTickLabels[k] ? (
        <g key={'pt' + k}>
          {rightLabel(y(p) - 13, priceTickLabels[k], '#111', 'a' + k, k === 1)}
          {rightLabel(y(p) + 13, pctTickLabels[k], pctTickLabels[k].startsWith('-') ? '#ff4f4f' : '#2e9e75', 'b' + k, k === 1)}
        </g>
      ) : null)}
      {rightLabel(y(lowMark) - 13, '0,0122', '#111', 'lowA', true)}
      {rightLabel(y(lowMark) + 13, '-11,59%', '#ff4f4f', 'lowB', true)}
      {valueBox(y(lastPrice) - 17, y(lastPrice) + 16, '0,0136', '#ff5252', 'lastBox')}

      {/* date axis */}
      <rect x={PL} y={MB} width={PR - PL + 120} height={45} fill="#f9f9f9" />
      <line x1={PL} x2={PR} y1={MB} y2={MB} stroke="#111" strokeWidth={2.5} />
      {dayTickIdx.map((t, k) => (
        <text key={'dt' + k} x={x(t)} y={1242} textAnchor="middle" dominantBaseline="middle" fontSize={27} fontWeight={700} fill="#111">{dayTickLabels[k]}</text>
      ))}
      {hourTickIdx.map((t, k) => hourTickLabels[k] ? (
        <text key={'ht' + k} x={x(t)} y={1242} textAnchor="middle" dominantBaseline="middle" fontSize={23} fill="#222">{hourTickLabels[k]}</text>
      ) : null)}

      {/* separators */}
      {[[1262, 4], [1511, 5], [1761, 5], [2011, 5], [2262, 6]].map(([yy, h], k) => (
        <rect key={'sep' + k} x={0} y={yy} width={W} height={h} fill="#e3e3e3" />
      ))}
      <line x1={5} x2={5} y1={MT} y2={2262} stroke="#e0e0e0" strokeWidth={2} />

      {/* ---------- MACD ---------- */}
      <g clipPath="url(#clipMacd)">
        {vGrid(macdT, macdB, 'macv')}
        {hGridLine(my(30), 'mg1')}
        {hGridLine(my(-26), 'mg2')}
        {hGridLine(my(0), 'mg0', '#c8c8c8', 4)}
        {cIdx.map((i) => (
          <rect key={'h' + i} x={x(i) - 3} width={6} y={Math.min(my(histVals[i]), my(0))} height={Math.abs(my(histVals[i]) - my(0))}
            fill={histVals[i] >= 0 ? '#2a9a6e' : '#ff5757'} />
        ))}
        <path d={macdFill.area} fill="#c8f5c4" clipPath="url(#macdAbove)" />
        <path d={macdFill.area} fill="#f7c6c6" clipPath="url(#macdBelow)" />
        <path d={mkLine(macdIdx, macdVals, my)} fill="none" stroke="#229a22" strokeWidth={2.2} />
        <path d={mkLine(signalIdx, signalVals, my)} fill="none" stroke="#111" strokeWidth={2.6} />
      </g>
      <text x={47} y={1289} dominantBaseline="middle" fontSize={26.5} fill="#111">MACD (12,26,9)</text>
      <text x={256} y={1289} dominantBaseline="middle" fontSize={26.5} fill="#111">-0,00</text>
      <line x1={PR} x2={PR} y1={macdT} y2={macdB} stroke="#000" strokeWidth={2.5} />
      {rightLabel(my(30), '0,0', '#e00000', 'm1')}
      {rightLabel(my(0), '0', '#111', 'm2')}
      {rightLabel(my(-26), '-0,0', '#108010', 'm3')}

      {/* ---------- RSI ---------- */}
      <g clipPath="url(#clipRsi)">
        <rect x={PL} y={rsiT} width={PR - PL} height={ry(70) - rsiT} fill="#ffe7e7" />
        <rect x={PL} y={ry(30)} width={PR - PL} height={rsiB - ry(30)} fill="#e1fbe1" />
        {vGrid(rsiT, rsiB, 'rsv')}
        {hGridLine(ry(70), 'rg1')}
        {hGridLine(ry(50), 'rg2')}
        {hGridLine(ry(30), 'rg3')}
        <path d={mkLine(rsiIdx, rsiVals, ry)} fill="none" stroke="#1a1a1a" strokeWidth={2.2} />
      </g>
      <text x={47} y={1538} dominantBaseline="middle" fontSize={26.5} fill="#111">RSI (14)</text>
      <text x={163} y={1538} dominantBaseline="middle" fontSize={26.5} fill="#111">53,71</text>
      <line x1={PR} x2={PR} y1={rsiT} y2={rsiB} stroke="#000" strokeWidth={2.5} />
      {rightLabel(ry(70), '70', '#e00000', 'r1')}
      {rightLabel(ry(50), '50', '#111', 'r2')}
      {rightLabel(ry(30), '30', '#108010', 'r3')}
      {valueBox(1619, 1653, '53,717', '#000', 'rsiBox')}

      {/* ---------- STO ---------- */}
      <g clipPath="url(#clipSto)">
        <rect x={PL} y={stoT} width={PR - PL} height={sy(80) - stoT} fill="#ffe7e7" />
        <rect x={PL} y={sy(20)} width={PR - PL} height={stoB - sy(20)} fill="#e1fbe1" />
        {vGrid(stoT, stoB, 'stv')}
        {hGridLine(sy(80), 'sg1')}
        {hGridLine(sy(50), 'sg2')}
        {hGridLine(sy(20), 'sg3')}
        <path d={stoFill.area} fill="rgba(140,230,130,0.55)" clipPath="url(#stoAbove)" />
        <path d={stoFill.area} fill="rgba(240,130,130,0.45)" clipPath="url(#stoBelow)" />
        <path d={mkLine(stoKIdx, stoKVals, sy)} fill="none" stroke="#1f8f1f" strokeWidth={2.2} />
        <path d={mkLine(stoDIdx, stoDVals, sy)} fill="none" stroke="#ff1a1a" strokeWidth={2.2} />
      </g>
      <text x={47} y={1788} dominantBaseline="middle" fontSize={26.5} fill="#111">STO (14,3,5)</text>
      <text x={215} y={1788} dominantBaseline="middle" fontSize={26.5} fill="#111">88,28</text>
      <line x1={PR} x2={PR} y1={stoT} y2={stoB} stroke="#000" strokeWidth={2.5} />
      {rightLabel(sy(80) + 2, '80', '#e00000', 's1')}
      {rightLabel(sy(50), '50', '#111', 's2')}
      {rightLabel(sy(20), '20', '#108010', 's3')}
      {valueBox(1767, 1812, '88,289', '#000', 'stoBox')}

      {/* ---------- ACD ---------- */}
      <g clipPath="url(#clipAcd)">
        {vGrid(acdT, acdB, 'acv')}
        {hGridLine(ay(339.535), 'ag1')}
        <path d={mkLine(acdIdx, acdVals, ay)} fill="none" stroke="#1a1a1a" strokeWidth={2.6} />
      </g>
      <text x={47} y={2038} dominantBaseline="middle" fontSize={26.5} fill="#111">ACD</text>
      <text x={119} y={2038} dominantBaseline="middle" fontSize={26.5} fill="#111">418.040.695,57</text>
      <line x1={PR} x2={PR} y1={acdT} y2={acdB} stroke="#000" strokeWidth={2.5} />
      <g clipPath="url(#clipAcdAxis)">
        {rightLabel(2013, '431.126.0', '#e00000', 'a1')}
        {rightLabel(ay(339.535), '339.535.1', '#111', 'a2')}
        {rightLabel(2268, '327.042.6', '#108010', 'a3')}
      </g>
      {valueBox(2034, 2070, '418.040.6', '#000', 'acdBox')}
    </svg>
  );
}
